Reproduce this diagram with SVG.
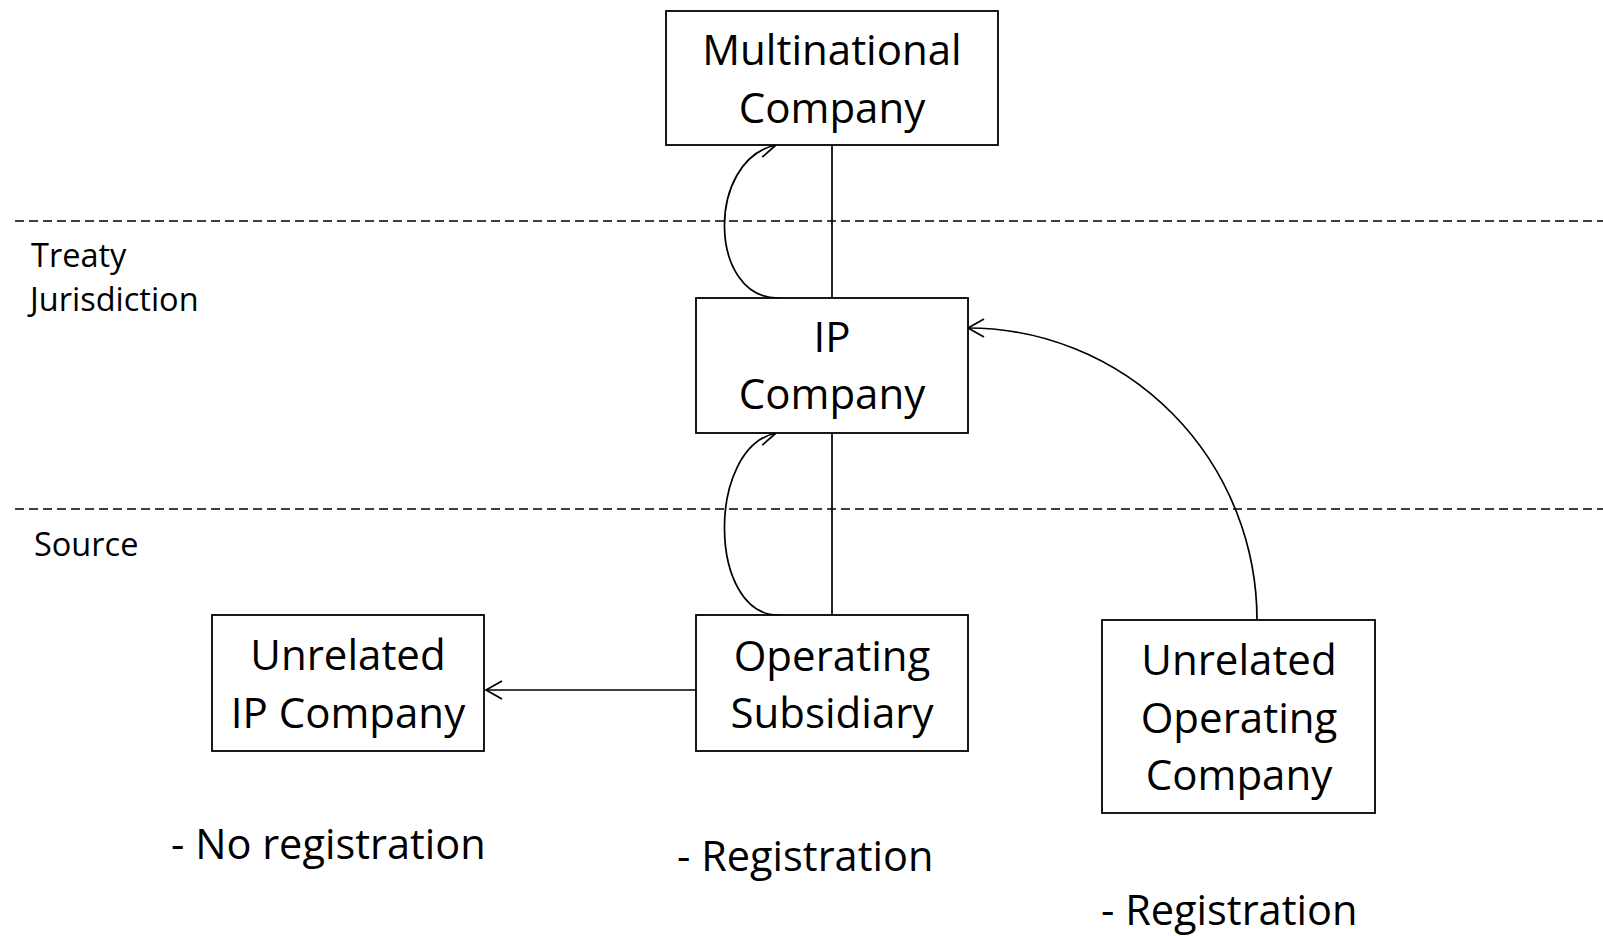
<svg xmlns="http://www.w3.org/2000/svg" width="1603" height="936" viewBox="0 0 1603 936">
  <style>
    .box { fill: #ffffff; stroke: #000000; stroke-width: 1.8; }
    .lbl { font-family: "Open Sans", "Noto Sans", "Liberation Sans", sans-serif; font-size: 42px; fill: #000000; text-anchor: middle; }
    .side { font-family: "Open Sans", "Noto Sans", "Liberation Sans", sans-serif; font-size: 32.5px; fill: #000000; }
    .note { font-family: "Open Sans", "Noto Sans", "Liberation Sans", sans-serif; font-size: 41.5px; fill: #000000; }
    .zone { stroke: #000000; stroke-width: 1.5; stroke-dasharray: 9 5; fill: none; }
    .link { stroke: #000000; stroke-width: 1.7; fill: none; }
    .flow { stroke: #000000; stroke-width: 1.7; fill: none; marker-end: url(#open-arrow); }
  </style>
  <defs>
    <marker id="open-arrow" markerUnits="userSpaceOnUse" viewBox="-18 -11 20 22" markerWidth="20" markerHeight="22" refX="0" refY="0" orient="auto">
      <path d="M -16 -9 L 0 0 L -16 9" fill="none" stroke="#000000" stroke-width="1.7"/>
    </marker>
  </defs>

  <rect x="0" y="0" width="1603" height="936" fill="#ffffff"/>

  <!-- jurisdiction boundaries -->
  <g id="zones">
    <line class="zone" x1="15" y1="221" x2="1603" y2="221"/>
    <line class="zone" x1="15" y1="509" x2="1603" y2="509"/>
    <text class="side" x="31" y="267">Treaty</text>
    <text class="side" x="30" y="311">Jurisdiction</text>
    <text class="side" x="34" y="556">Source</text>
  </g>

  <!-- connectors -->
  <g id="connectors">
    <line class="link" x1="832" y1="145" x2="832" y2="298"/>
    <line class="link" x1="832" y1="433" x2="832" y2="615"/>
    <path class="flow" d="M 778 298 C 708 298 706 160 776 145"/>
    <path class="flow" d="M 778 615 C 708 615 706 448 776 433"/>
    <line class="flow" x1="696" y1="690" x2="486" y2="690"/>
    <path class="flow" d="M 1257 620 A 289 292 0 0 0 968 328"/>
  </g>

  <g id="multinational">
    <rect class="box" x="666" y="11" width="332" height="134"/>
    <text class="lbl" x="832" y="65">Multinational</text>
    <text class="lbl" x="832" y="123">Company</text>
  </g>

  <g id="ip-company">
    <rect class="box" x="696" y="298" width="272" height="135"/>
    <text class="lbl" x="832" y="352">IP</text>
    <text class="lbl" x="832" y="409">Company</text>
  </g>

  <g id="operating-subsidiary">
    <rect class="box" x="696" y="615" width="272" height="136"/>
    <text class="lbl" x="832" y="671">Operating</text>
    <text class="lbl" x="832" y="728">Subsidiary</text>
  </g>

  <g id="unrelated-ip">
    <rect class="box" x="212" y="615" width="272" height="136"/>
    <text class="lbl" x="348" y="670">Unrelated</text>
    <text class="lbl" x="348" y="728">IP Company</text>
  </g>

  <g id="unrelated-operating">
    <rect class="box" x="1102" y="620" width="273" height="193"/>
    <text class="lbl" x="1239" y="675">Unrelated</text>
    <text class="lbl" x="1239" y="733">Operating</text>
    <text class="lbl" x="1239" y="790">Company</text>
  </g>

  <g id="notes">
    <text class="note" x="171" y="859">- No registration</text>
    <text class="note" x="677" y="871">- Registration</text>
    <text class="note" x="1101" y="925">- Registration</text>
  </g>
</svg>
